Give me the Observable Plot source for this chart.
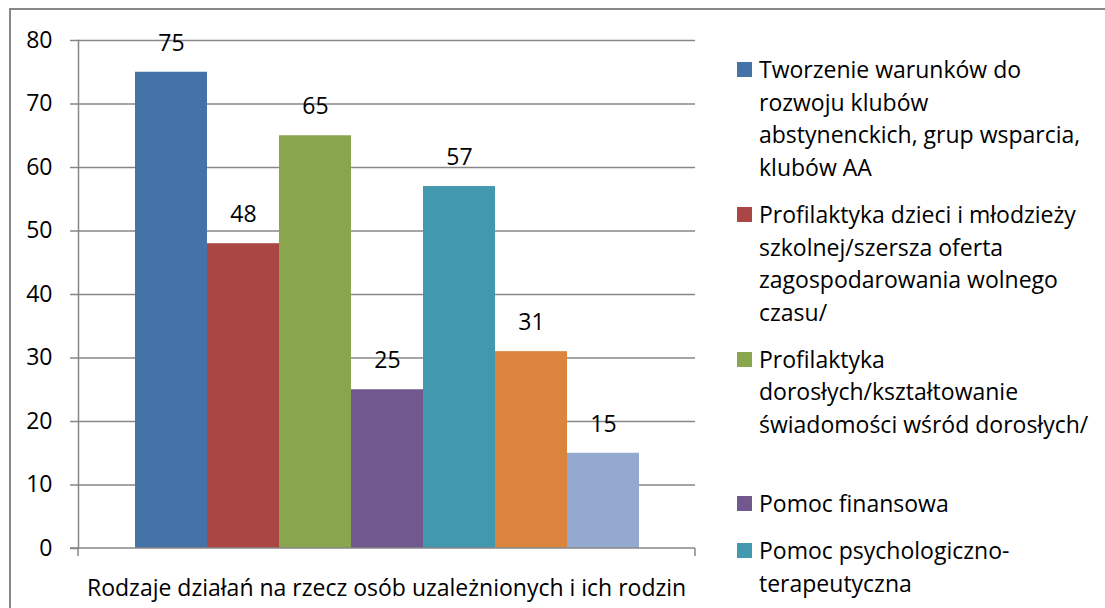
<!DOCTYPE html>
<html>
<head>
<meta charset="utf-8">
<script src="https://cdn.jsdelivr.net/npm/d3@7"></script>
<script src="https://cdn.jsdelivr.net/npm/@observablehq/plot@0.6"></script>
<style>
  html, body { margin: 0; padding: 0; background: #fff; width: 1105px; height: 608px; overflow: hidden; }
  #frame { position: absolute; left: 9px; top: 8px; width: 1200px; height: 700px; border: 2px solid #878787; box-sizing: border-box; }
  #chart { position: absolute; left: 0; top: 0; }
  #legend { position: absolute; left: 737px; top: 53px; font-family: "Open Sans", sans-serif; font-size: 23px; line-height: 32.7px; color: #000; }
  .item { position: relative; padding-left: 22px; margin-bottom: 14px; white-space: nowrap; }
  .sw { position: absolute; left: 0; top: 9px; width: 15px; height: 15px; }
  .xlabel { position: absolute; font-family: "Open Sans", sans-serif; font-size: 23px; color: #000; white-space: nowrap; }
</style>
</head>
<body>
<div id="frame"></div>
<div id="chart"></div>
<div id="legend"></div>
<script>
// Data
const categoryLabel = "Rodzaje działań na rzecz osób uzależnionych i ich rodzin";
const seriesIndex = [1, 2, 3, 4, 5, 6, 7];
const seriesValues = [75, 48, 65, 25, 57, 31, 15];
const seriesColors = ["#4572A7", "#AA4643", "#89A54E", "#71588F", "#4198AF", "#DB843D", "#93A9CF"];
const legendLines = [
  ["Tworzenie warunków do", "rozwoju klubów", "abstynenckich, grup wsparcia,", "klubów AA"],
  ["Profilaktyka dzieci i młodzieży", "szkolnej/szersza oferta", "zagospodarowania wolnego", "czasu/"],
  ["Profilaktyka", "dorosłych/kształtowanie", "świadomości wśród dorosłych/", ""],
  ["Pomoc finansowa"],
  ["Pomoc psychologiczno-", "terapeutyczna"]
];
const yTicks = [0, 10, 20, 30, 40, 50, 60, 70, 80];

const data = seriesIndex.map((s, i) => ({s, v: seriesValues[i]}));

const W = 720, H = 608;
const chart = Plot.plot({
  width: W, height: H,
  marginLeft: 78, marginRight: 25, marginTop: 40, marginBottom: 60,
  style: {fontFamily: "'Open Sans', sans-serif", fontSize: "23px", color: "#000", background: "transparent"},
  x: {domain: seriesIndex, paddingInner: 0, paddingOuter: 0.75, axis: null},
  y: {domain: [0, 80], ticks: yTicks, label: null},
  color: {domain: seriesIndex, range: seriesColors},
  marks: [
    Plot.ruleY(yTicks.filter(t => t > 0), {stroke: "#878787", strokeWidth: 1.5}),
    Plot.barY(data, {x: "s", y: "v", fill: "s"}),
    Plot.axisY({ticks: yTicks, tickSize: 8, tickPadding: 18, stroke: "#878787", strokeWidth: 1.5, fontSize: 23, fill: "#000", label: null}),
    Plot.frame({anchor: "left", stroke: "#878787", strokeWidth: 1.5}),
    Plot.text(data, {x: "s", y: "v", text: d => String(d.v), dy: -29, fontSize: 23, fill: "#000"})
  ]
});
document.getElementById("chart").appendChild(chart);

// x-axis baseline with end ticks below it
const ys = chart.scale("y");
const svg = d3.select(chart);
const y0 = ys.apply(0);
const left = 78, right = W - 25;
svg.append("line").attr("x1", left - 8).attr("x2", right).attr("y1", y0).attr("y2", y0).attr("stroke", "#878787").attr("stroke-width", 1.5);
[left, right].forEach(x => svg.append("line").attr("x1", x).attr("x2", x).attr("y1", y0).attr("y2", y0 + 8).attr("stroke", "#878787").attr("stroke-width", 1.5));

// category label below axis
const lab = document.createElement("div");
lab.className = "xlabel";
lab.textContent = categoryLabel;
document.body.appendChild(lab);
lab.style.left = ((left + right) / 2 - lab.offsetWidth / 2) + "px";
lab.style.top = (y0 + 39 - lab.offsetHeight / 2) + "px";

// legend
const legend = document.getElementById("legend");
legendLines.forEach((lines, i) => {
  const it = document.createElement("div");
  it.className = "item";
  const sw = document.createElement("div");
  sw.className = "sw";
  sw.style.background = seriesColors[i];
  it.appendChild(sw);
  lines.forEach(l => {
    const d = document.createElement("div");
    d.textContent = l === "" ? "\u00a0" : l;
    it.appendChild(d);
  });
  legend.appendChild(it);
});
</script>
</body>
</html>
